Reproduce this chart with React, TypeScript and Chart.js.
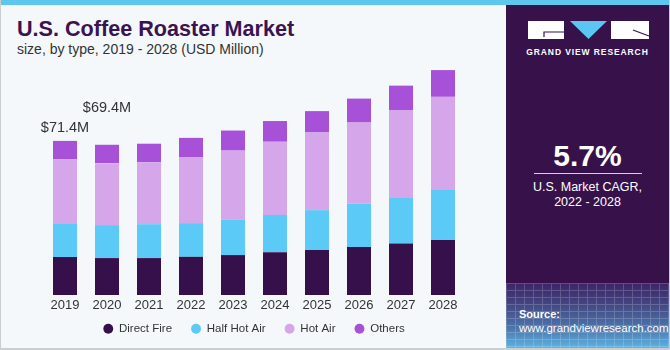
import React, { useEffect, useRef } from "react";
import { Chart, registerables } from "chart.js";

Chart.register(...registerables);

const years = ["2019", "2020", "2021", "2022", "2023", "2024", "2025", "2026", "2027", "2028"];
const directFire = [17.6, 17.1, 17.1, 17.7, 18.5, 19.8, 20.8, 22.2, 23.9, 25.5];
const halfHotAir = [15.3, 15.3, 15.7, 15.6, 16.5, 17.3, 18.5, 20.2, 21.4, 23.1];
const hotAir = [29.9, 28.7, 28.7, 30.4, 31.9, 33.9, 36.0, 37.5, 40.4, 43.2];
const others = [8.6, 8.5, 8.6, 9.1, 9.3, 9.6, 9.9, 11.1, 11.3, 12.4];
const totalLabels = ["$71.4M", "$69.4M"];
const cagrValue = "5.7%";

const FONT = "'Liberation Sans', Arial, sans-serif";

const totalsPlugin = {
  id: "totals",
  afterLayout(chart: any) {
    const s = chart.scales.x;
    if (s) {
      s.bottom = s.top + 22;
      s.height = 22;
    }
  },
  afterDatasetsDraw(chart: any) {
    const ctx = chart.ctx;
    const meta = chart.getDatasetMeta(chart.data.datasets.length - 1);
    const offsets = [13, 37];
    ctx.save();
    ctx.font = `14.5px ${FONT}`;
    ctx.fillStyle = "#333333";
    ctx.textAlign = "center";
    ctx.textBaseline = "middle";
    totalLabels.forEach((t, i) => {
      const el = meta.data[i];
      if (el) ctx.fillText(t, el.x, el.y - offsets[i]);
    });
    ctx.restore();
  },
};

function BarChart() {
  const ref = useRef<HTMLCanvasElement | null>(null);
  useEffect(() => {
    if (!ref.current) return;
    Chart.defaults.font.family = FONT;
    const chart = new Chart(ref.current, {
      type: "bar",
      data: {
        labels: years,
        datasets: [
          { label: "Direct Fire", data: directFire, backgroundColor: "#35104a" },
          { label: "Half Hot Air", data: halfHotAir, backgroundColor: "#5ccaf6" },
          { label: "Hot Air", data: hotAir, backgroundColor: "#d5a7ea" },
          { label: "Others", data: others, backgroundColor: "#a750d8" },
        ],
      },
      options: {
        responsive: false,
        animation: false,
        layout: { padding: { left: 43, right: 42, top: 36, bottom: 5.5 } },
        datasets: { bar: { categoryPercentage: 1, barPercentage: 24 / 42 } },
        scales: {
          x: {
            stacked: true,
            grid: { display: false, drawTicks: false },
            border: { display: false },
            ticks: { color: "#333333", font: { size: 13, family: FONT }, padding: 3 },
            afterFit: (s: any) => {
              s.height = 9;
            },
          },
          y: { stacked: true, display: false, min: 0, max: 120 },
        },
        plugins: {
          legend: {
            position: "bottom",
            labels: {
              usePointStyle: true,
              pointStyle: "circle",
              boxWidth: 10,
              boxHeight: 7,
              padding: 19,
              color: "#333333",
              font: { size: 11.5, family: FONT },
            },
          },
          tooltip: { enabled: false },
        },
      },
      plugins: [totalsPlugin],
    } as any);
    return () => chart.destroy();
  }, []);
  return (
    <canvas
      ref={ref}
      width={505}
      height={350}
      style={{ position: "absolute", left: 0, top: 0, width: 505, height: 350 }}
    />
  );
}

export default function App() {
  return (
    <div
      style={{
        position: "fixed",
        left: 0,
        top: 0,
        width: 670,
        height: 350,
        background: "#f4f8fb",
        overflow: "hidden",
        fontFamily: FONT,
        boxSizing: "border-box",
        borderLeft: "1px solid #c9ced3",
        borderRight: "1px solid #c9ced3",
        borderBottom: "2px solid #c9ced3",
      }}
    >
      <div style={{ position: "absolute", left: -1, top: 0, width: 672, height: 5, background: "#5fc6ee" }} />
      <div
        style={{
          position: "absolute",
          left: 16,
          top: 17.7,
          fontSize: 21.6,
          lineHeight: 1,
          fontWeight: 700,
          color: "#3a1450",
          whiteSpace: "nowrap",
        }}
      >
        U.S. Coffee Roaster Market
      </div>
      <div
        style={{
          position: "absolute",
          left: 16,
          top: 42,
          fontSize: 14,
          lineHeight: 1,
          color: "#333333",
          whiteSpace: "nowrap",
        }}
      >
        size, by type, 2019 - 2028 (USD Million)
      </div>
      <BarChart />
      <div
        style={{
          position: "absolute",
          left: 505,
          top: 5,
          width: 163,
          height: 343,
          background: "#37124a",
          color: "#ffffff",
          overflow: "hidden",
        }}
      >
        <div
          style={{
            position: "absolute",
            left: 0,
            top: 278,
            width: 163,
            height: 65,
            background: "linear-gradient(to bottom, #3c2468 0%, #42437e 30%, #4d76ad 70%, #5cb4e2 100%)",
          }}
        />
        <div
          style={{
            position: "absolute",
            left: 0,
            top: 278,
            width: 163,
            height: 65,
            opacity: 0.18,
            backgroundImage:
              "repeating-linear-gradient(to right, #ffffff 0px, #ffffff 1px, transparent 1px, transparent 9px), repeating-linear-gradient(to bottom, #ffffff 0px, #ffffff 1px, transparent 1px, transparent 7px)",
          }}
        />
        <svg
          width={163}
          height={40}
          style={{ position: "absolute", left: 0, top: 0 }}
          viewBox="0 0 163 40"
        >
          <rect x={22} y={16} width={36} height={18} fill="#ffffff" />
          <polyline points="58,27 38,27 38,32" fill="none" stroke="#37124a" strokeWidth={1.2} />
          <polygon points="64,16 101,16 82.5,34" fill="#5cc6f2" />
          <rect x={105} y={16} width={38} height={18} fill="#ffffff" />
          <line x1={127} y1={25} x2={143} y2={31} stroke="#37124a" strokeWidth={1.2} />
        </svg>
        <div
          style={{
            position: "absolute",
            left: 0,
            width: 163,
            top: 42.5,
            textAlign: "center",
            fontSize: 8.5,
            fontWeight: 700,
            letterSpacing: 0.9,
            lineHeight: 1,
            whiteSpace: "nowrap",
          }}
        >
          GRAND VIEW RESEARCH
        </div>
        <div
          style={{
            position: "absolute",
            left: 0,
            width: 163,
            top: 135.6,
            textAlign: "center",
            fontSize: 30,
            fontWeight: 700,
            lineHeight: 1,
          }}
        >
          {cagrValue}
        </div>
        <div style={{ position: "absolute", left: 28, top: 168, width: 108, height: 1, background: "#d8d0de" }} />
        <div
          style={{
            position: "absolute",
            left: 0,
            width: 163,
            top: 174.5,
            textAlign: "center",
            fontSize: 12.5,
            lineHeight: "15px",
          }}
        >
          U.S. Market CAGR,
          <br />
          2022 - 2028
        </div>
        <div
          style={{
            position: "absolute",
            left: 13,
            top: 302,
            fontSize: 11,
            lineHeight: "14px",
            whiteSpace: "nowrap",
          }}
        >
          <div style={{ fontWeight: 700 }}>Source:</div>
          <div style={{ fontSize: 11.5 }}>www.grandviewresearch.com</div>
        </div>
      </div>
    </div>
  );
}
